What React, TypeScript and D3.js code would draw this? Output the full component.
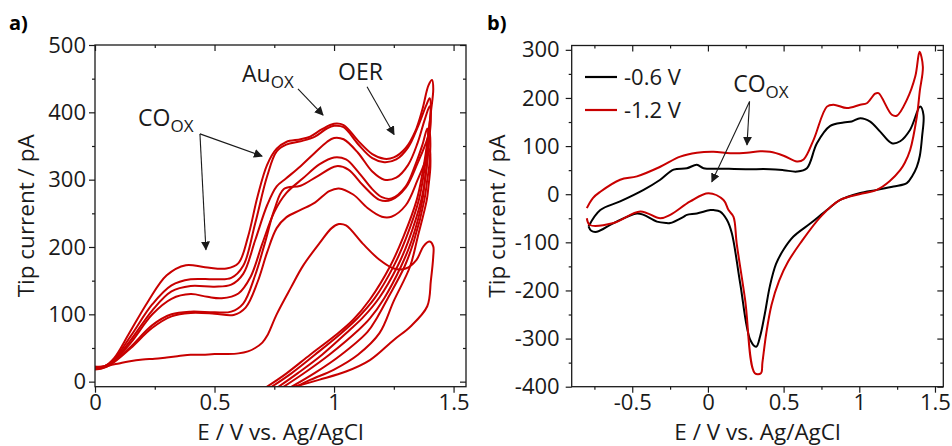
import React, { useEffect, useRef } from 'react';
import * as d3 from 'd3';

type Pt = [number, number];

// panel a: successive cycles, E / V vs Ag/AgCl against tip current / pA
const cycleA1: Pt[] = [[0,22],[0.04,23],[0.08,35],[0.14,70],[0.22,118],[0.3,158],[0.38,173],[0.46,170],[0.55,168],[0.6,176],[0.64,215],[0.68,275],[0.72,322],[0.76,346],[0.8,356],[0.86,360],[0.9,364],[0.95,375],[1.0,383],[1.04,381],[1.1,358],[1.16,338],[1.21,331],[1.25,333],[1.3,347],[1.34,372],[1.37,405],[1.395,440],[1.41,448],[1.415,435],[1.405,400],[1.39,355],[1.37,310],[1.346,270],[1.29,215],[1.234,171],[1.15,122],[1.08,92],[1.01,70],[0.9,40],[0.8,12],[0.7,-12]];
const cycleA2: Pt[] = [[0,20],[0.04,22],[0.08,33],[0.15,68],[0.24,115],[0.32,143],[0.4,152],[0.5,152],[0.57,154],[0.62,172],[0.67,235],[0.72,305],[0.76,342],[0.8,352],[0.86,357],[0.92,364],[0.97,376],[1.0,380],[1.04,378],[1.1,353],[1.16,332],[1.21,326],[1.26,330],[1.31,348],[1.35,378],[1.385,410],[1.4,421],[1.405,405],[1.395,370],[1.38,320],[1.355,270],[1.3,212],[1.25,172],[1.17,124],[1.1,95],[1.03,72],[0.92,40],[0.82,12],[0.72,-12]];
const cycleA3: Pt[] = [[0,21],[0.04,23],[0.08,32],[0.15,62],[0.24,106],[0.32,134],[0.4,142],[0.5,141],[0.57,144],[0.62,160],[0.67,210],[0.72,262],[0.76,290],[0.8,302],[0.86,320],[0.92,340],[0.97,356],[1.0,362],[1.04,360],[1.1,340],[1.16,312],[1.21,300],[1.26,303],[1.31,322],[1.35,355],[1.38,390],[1.4,409],[1.405,390],[1.398,360],[1.385,310],[1.365,270],[1.31,208],[1.265,171],[1.19,125],[1.12,95],[1.06,75],[0.95,40],[0.85,13],[0.75,-12]];
const cycleA4: Pt[] = [[0,20],[0.04,22],[0.08,31],[0.15,58],[0.24,100],[0.32,123],[0.4,130],[0.47,126],[0.53,124],[0.6,131],[0.65,155],[0.7,205],[0.75,252],[0.8,280],[0.87,302],[0.94,323],[1.0,333],[1.05,330],[1.1,312],[1.16,286],[1.2,274],[1.24,272],[1.3,290],[1.34,322],[1.37,352],[1.39,376],[1.395,360],[1.39,330],[1.38,300],[1.37,270],[1.325,210],[1.28,171],[1.21,124],[1.15,94],[1.1,76],[0.98,40],[0.88,14],[0.77,-12]];
const cycleA5: Pt[] = [[0,22],[0.04,23],[0.08,30],[0.15,52],[0.24,84],[0.32,100],[0.4,104],[0.5,103],[0.57,104],[0.62,116],[0.67,158],[0.71,205],[0.75,255],[0.79,286],[0.86,291],[0.93,305],[1.01,320],[1.06,315],[1.12,292],[1.19,270],[1.24,270],[1.3,288],[1.35,325],[1.385,355],[1.4,371],[1.403,350],[1.398,320],[1.39,300],[1.378,270],[1.335,210],[1.295,171],[1.225,124],[1.18,95],[1.14,74],[1.03,40],[0.92,13],[0.8,-12]];
const cycleA6: Pt[] = [[0,19],[0.04,21],[0.08,29],[0.15,50],[0.24,80],[0.32,97],[0.4,102],[0.5,101],[0.58,99],[0.63,110],[0.68,148],[0.72,192],[0.76,228],[0.8,244],[0.86,255],[0.92,266],[0.98,283],[1.02,287],[1.08,278],[1.14,258],[1.2,245],[1.24,245],[1.3,262],[1.35,300],[1.385,330],[1.4,345],[1.403,320],[1.395,290],[1.388,270],[1.35,215],[1.318,171],[1.25,120],[1.19,72],[1.1,40],[1.0,18],[0.9,2.5],[0.82,-12]];
const cycleA7: Pt[] = [[0,18],[0.03,20],[0.06,24],[0.1,27],[0.14,30],[0.2,33],[0.25,34],[0.3,36],[0.35,38],[0.4,40],[0.45,40],[0.5,41],[0.55,41],[0.6,42],[0.64,45],[0.67,50],[0.7,58],[0.72,68],[0.76,100],[0.82,140],[0.87,172],[0.94,206],[0.99,228],[1.02,234],[1.05,232],[1.12,205],[1.19,181],[1.25,168],[1.3,168],[1.345,181],[1.374,201],[1.4,208],[1.415,201],[1.415,186],[1.405,150],[1.39,112],[1.32,82],[1.25,62],[1.15,32],[1.05,15],[0.94,3],[0.86,-5],[0.78,-12]];

// panel b: two traces
const trace06: Pt[] = [[-0.789,-67],[-0.711,-33],[-0.58,-15],[-0.425,9],[-0.315,30],[-0.227,51],[-0.139,54],[-0.073,61],[-0.029,54],[0.1,53],[0.25,52],[0.41,52],[0.5,50],[0.588,47],[0.654,54],[0.72,106],[0.808,142],[0.896,149],[0.95,151],[1.006,158],[1.072,151],[1.138,130],[1.215,106],[1.27,110],[1.336,134],[1.402,182],[1.424,165],[1.415,120],[1.4,80],[1.38,57],[1.35,38],[1.314,23],[1.226,16],[1.116,9],[1.0,2],[0.874,-12],[0.786,-33],[0.68,-60],[0.565,-88],[0.5,-115],[0.45,-145],[0.41,-190],[0.375,-250],[0.345,-295],[0.319,-317],[0.28,-303],[0.213,-185],[0.158,-81],[0.125,-53],[0.081,-36],[0.037,-33],[0.015,-33],[-0.073,-40],[-0.139,-43],[-0.161,-47],[-0.249,-60],[-0.271,-60],[-0.337,-57],[-0.425,-43],[-0.469,-40],[-0.623,-60],[-0.733,-78],[-0.771,-76],[-0.789,-67]];
const trace12: Pt[] = [[-0.8,-29],[-0.76,-8],[-0.711,5],[-0.58,30],[-0.469,37],[-0.315,57],[-0.183,78],[-0.073,86],[0.037,88],[0.147,85],[0.257,86],[0.345,89],[0.41,88],[0.5,80],[0.588,68],[0.632,72],[0.698,113],[0.786,182],[0.83,186],[0.918,179],[1.006,186],[1.05,189],[1.105,209],[1.127,210],[1.215,165],[1.248,163],[1.314,196],[1.37,245],[1.398,296],[1.42,265],[1.4,215],[1.38,161],[1.336,92],[1.3,65],[1.27,50],[1.2,27],[1.116,9],[1.0,0],[0.874,-12],[0.75,-45],[0.61,-102],[0.53,-140],[0.47,-180],[0.42,-230],[0.385,-290],[0.36,-350],[0.35,-372],[0.31,-372],[0.246,-220],[0.19,-102],[0.169,-47],[0.136,-33],[0.103,-12],[0.004,2],[-0.117,-15],[-0.249,-43],[-0.315,-50],[-0.447,-36],[-0.623,-60],[-0.78,-64],[-0.8,-50]];

const cyclesA = [cycleA1, cycleA2, cycleA3, cycleA4, cycleA5, cycleA6, cycleA7];
const tracesB = [trace06, trace12];
const legendLabels = ['-0.6 V', '-1.2 V'];

const xMajorA = [0, 0.5, 1, 1.5];
const xMinorA = [0.25, 0.75, 1.25];
const yMajorA = [0, 100, 200, 300, 400, 500];
const yMinorA = [50, 150, 250, 350, 450];
const xMajorB = [-0.5, 0, 0.5, 1, 1.5];
const xMinorB = [-0.75, -0.25, 0.25, 0.75, 1.25];
const yMajorB = [-400, -300, -200, -100, 0, 100, 200, 300];
const yMinorB = [-350, -250, -150, -50, 50, 150, 250];

const RED = '#c80000';
const INK = '#1a1a1a';
const FONT = '"Open Sans", sans-serif';

function drawAxes(g: any, x: any, y: any, xMaj: number[], xMin: number[], yMaj: number[], yMin: number[], yPad: number) {
  const [xl, xr] = x.range();
  const [yb, yt] = y.range();
  const fmt = (d: any) => String(d);
  const add = (axis: any, tf: string, labels: boolean) => {
    const a = g.append('g').attr('transform', tf).call(axis);
    a.select('.domain').remove();
    a.selectAll('line').attr('stroke', INK).attr('stroke-width', 1.2);
    if (labels) a.selectAll('text').attr('font-family', FONT).attr('font-size', 22).attr('fill', INK);
    else a.selectAll('text').remove();
  };
  add(d3.axisBottom(x).tickValues(xMaj).tickSize(6).tickPadding(2).tickFormat(fmt), `translate(0,${yb})`, true);
  add(d3.axisBottom(x).tickValues(xMin).tickSize(3), `translate(0,${yb})`, false);
  add(d3.axisTop(x).tickValues(xMaj).tickSize(-6), `translate(0,${yt})`, false);
  add(d3.axisTop(x).tickValues(xMin).tickSize(-3), `translate(0,${yt})`, false);
  add(d3.axisLeft(y).tickValues(yMaj).tickSize(6).tickPadding(yPad).tickFormat(fmt), `translate(${xl},0)`, true);
  add(d3.axisLeft(y).tickValues(yMin).tickSize(3), `translate(${xl},0)`, false);
  add(d3.axisRight(y).tickValues(yMaj).tickSize(-6), `translate(${xr},0)`, false);
  add(d3.axisRight(y).tickValues(yMin).tickSize(-3), `translate(${xr},0)`, false);
  g.append('rect').attr('x', xl).attr('y', yt).attr('width', xr - xl).attr('height', yb - yt)
    .attr('fill', 'none').attr('stroke', INK).attr('stroke-width', 1.3);
}

function addTitles(g: any, x: any, y: any, yTitleX: number) {
  const [xl, xr] = x.range();
  const [yb, yt] = y.range();
  g.append('text').attr('x', (xl + xr) / 2).attr('y', 440).attr('text-anchor', 'middle')
    .attr('font-family', FONT).attr('font-size', 22.5).attr('fill', INK).text('E / V vs. Ag/AgCl');
  const cy = (yb + yt) / 2;
  g.append('text').attr('x', yTitleX).attr('y', cy).attr('text-anchor', 'middle')
    .attr('transform', `rotate(-90, ${yTitleX}, ${cy})`)
    .attr('font-family', FONT).attr('font-size', 22.5).attr('fill', INK).text('Tip current / pA');
}

function subLabel(g: any, px: number, py: number, main: string) {
  const t = g.append('text').attr('x', px).attr('y', py).attr('font-family', FONT).attr('fill', INK);
  t.append('tspan').attr('font-size', 23).text(main);
  t.append('tspan').attr('font-size', 17).attr('dy', 6).text('OX');
}

function arrow(g: any, x1: number, y1: number, x2: number, y2: number) {
  g.append('line').attr('x1', x1).attr('y1', y1).attr('x2', x2).attr('y2', y2)
    .attr('stroke', INK).attr('stroke-width', 1.1).attr('marker-end', 'url(#head)');
}

export default function App() {
  const ref = useRef<SVGSVGElement>(null);

  useEffect(() => {
    const svg = d3.select(ref.current);
    svg.selectAll('*').remove();

    svg.append('defs').append('marker').attr('id', 'head')
      .attr('viewBox', '0 0 10 10').attr('refX', 9).attr('refY', 5)
      .attr('markerWidth', 9).attr('markerHeight', 9).attr('markerUnits', 'userSpaceOnUse')
      .attr('orient', 'auto')
      .append('path').attr('d', 'M0,0 L10,5 L0,10 z').attr('fill', INK);

    // ---- panel a
    const xA = d3.scaleLinear().domain([0, 1.552]).range([95, 466]);
    const yA = d3.scaleLinear().domain([-7.5, 500]).range([386.7, 45]);
    const gA = svg.append('g');
    gA.append('clipPath').attr('id', 'clipA').append('rect')
      .attr('x', 95).attr('y', 45).attr('width', 371).attr('height', 341.7);
    const lineA = d3.line<Pt>().x(d => xA(d[0])).y(d => yA(d[1])).curve(d3.curveCatmullRom.alpha(0.5));
    gA.append('g').attr('clip-path', 'url(#clipA)').selectAll('path').data(cyclesA).join('path')
      .attr('d', d => lineA(d)).attr('fill', 'none').attr('stroke', RED).attr('stroke-width', 2)
      .attr('stroke-linejoin', 'round');
    drawAxes(gA, xA, yA, xMajorA, xMinorA, yMajorA, yMinorA, 3);
    addTitles(gA, xA, yA, 34);
    gA.append('text').attr('x', 9).attr('y', 30).attr('font-family', FONT).attr('font-weight', 'bold')
      .attr('font-size', 20).attr('fill', '#000').text('a)');
    subLabel(gA, xA(0.18), yA(380), 'CO');
    subLabel(gA, xA(0.615), yA(445), 'Au');
    gA.append('text').attr('x', xA(1.017)).attr('y', yA(448)).attr('font-family', FONT)
      .attr('font-size', 23).attr('fill', INK).text('OER');
    arrow(gA, xA(0.439), yA(368), xA(0.699), yA(335));
    arrow(gA, xA(0.439), yA(368), xA(0.464), yA(196));
    arrow(gA, xA(0.849), yA(435), xA(0.954), yA(396));
    arrow(gA, xA(1.138), yA(438), xA(1.251), yA(367));

    // ---- panel b
    const xB = d3.scaleLinear().domain([-0.9, 1.555]).range([571.7, 943.3]);
    const yB = d3.scaleLinear().domain([-400, 309]).range([386.7, 45.5]);
    const gB = svg.append('g');
    gB.append('clipPath').attr('id', 'clipB').append('rect')
      .attr('x', 571.7).attr('y', 45.5).attr('width', 371.6).attr('height', 341.2);
    const lineB = d3.line<Pt>().x(d => xB(d[0])).y(d => yB(d[1])).curve(d3.curveCatmullRom.alpha(0.5));
    const colorsB = ['#000000', RED];
    gB.append('g').attr('clip-path', 'url(#clipB)').selectAll('path').data(tracesB).join('path')
      .attr('d', d => lineB(d)).attr('fill', 'none').attr('stroke', (d, i) => colorsB[i])
      .attr('stroke-width', 2).attr('stroke-linejoin', 'round');
    drawAxes(gB, xB, yB, xMajorB, xMinorB, yMajorB, yMinorB, 6);
    addTitles(gB, xB, yB, 505);
    gB.append('text').attr('x', 487).attr('y', 30).attr('font-family', FONT).attr('font-weight', 'bold')
      .attr('font-size', 20).attr('fill', '#000').text('b)');

    const leg = gB.append('g');
    legendLabels.forEach((lab, i) => {
      const ly = 77 + i * 33;
      leg.append('line').attr('x1', 585).attr('x2', 617).attr('y1', ly).attr('y2', ly)
        .attr('stroke', colorsB[i]).attr('stroke-width', 2.2);
      leg.append('text').attr('x', 624).attr('y', ly + 8).attr('font-family', FONT)
        .attr('font-size', 22).attr('fill', INK).text(lab);
    });
    subLabel(gB, xB(0.167), yB(213), 'CO');
    arrow(gB, xB(0.275), yB(192.5), xB(0.258), yB(102.5));
    arrow(gB, xB(0.275), yB(192.5), xB(0.026), yB(26));
  }, []);

  return (
    <svg ref={ref} width={952} height={446}
      style={{ position: 'absolute', left: 0, top: 0, background: '#fff' }} />
  );
}
